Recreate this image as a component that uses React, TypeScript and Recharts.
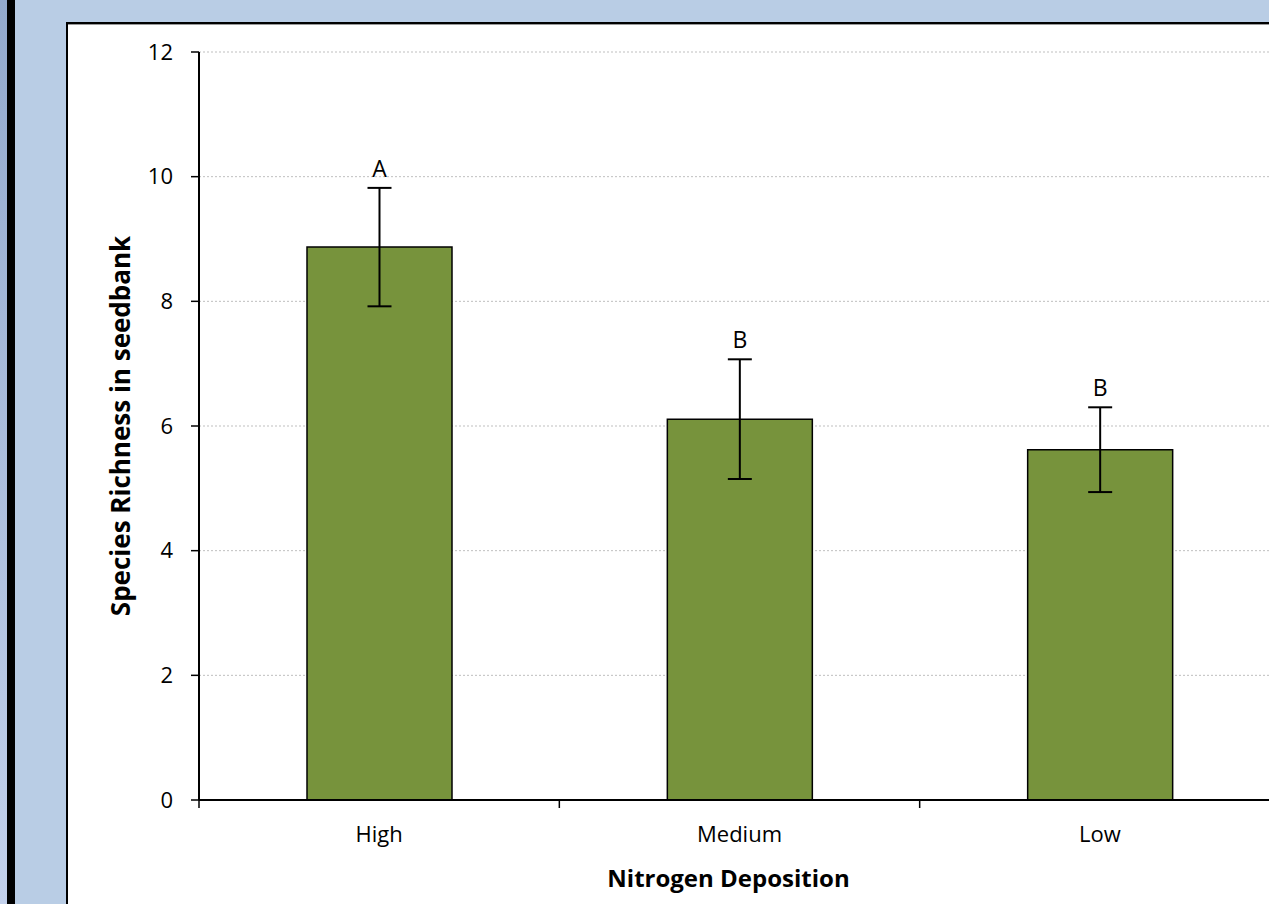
import { BarChart, Bar, XAxis, YAxis, CartesianGrid, ErrorBar, LabelList } from "recharts";

const categories = ["High", "Medium", "Low"];
const richness = [8.87, 6.11, 5.62];
const stdErr = [0.95, 0.96, 0.68];
const letters = ["A", "B", "B"];
const yTicks = [0, 2, 4, 6, 8, 10, 12];
// ticks on the numeric x axis: whole numbers are the category borders, halves are the labels
const xTicks = [0, 0.5, 1, 1.5, 2, 2.5, 3];

const FONT = "'Open Sans', sans-serif";

const data = categories.map((name, i) => ({
  name,
  pos: i + 0.5,
  richness: richness[i],
  err: stdErr[i],
  letter: letters[i],
}));

// letter sits just above the top of the error bar
function LetterLabel(props: any) {
  const { x, y, width, height, value, index } = props;
  const errTop = y - (stdErr[index] * height) / richness[index];
  return (
    <text x={x + width / 2} y={errTop - 11} textAnchor="middle" fontFamily={FONT} fontSize={23} fill="#000">
      {value}
    </text>
  );
}

function XTick(props: any) {
  const { x, y, payload } = props;
  const v = payload.value;
  if (Number.isInteger(v)) {
    return <line x1={x} y1={y} x2={x} y2={y + 8} stroke="#000" strokeWidth={1.5} />;
  }
  return (
    <text x={x} y={y + 42} textAnchor="middle" fontFamily={FONT} fontSize={22} fill="#000">
      {categories[Math.floor(v)]}
    </text>
  );
}

function YTitle(props: any) {
  const { viewBox } = props;
  const cx = viewBox.x + 52;
  const cy = viewBox.y + viewBox.height / 2;
  return (
    <text
      x={cx}
      y={cy}
      transform={`rotate(-90 ${cx} ${cy})`}
      textAnchor="middle"
      dominantBaseline="central"
      fontFamily={FONT}
      fontWeight="bold"
      fontSize={26}
      fill="#000"
    >
      Species Richness in seedbank
    </text>
  );
}

function XTitle(props: any) {
  const { viewBox } = props;
  return (
    <text
      x={viewBox.x + viewBox.width / 2 - 11}
      y={viewBox.y + 87}
      textAnchor="middle"
      fontFamily={FONT}
      fontWeight="bold"
      fontSize={24}
      fill="#000"
    >
      Nitrogen Deposition
    </text>
  );
}

export default function App() {
  return (
    <div
      style={{
        position: "fixed",
        left: 0,
        top: 0,
        width: 1269,
        height: 904,
        overflow: "hidden",
        background: "#B9CDE5",
      }}
    >
      <div
        style={{
          position: "absolute",
          left: 0,
          top: 0,
          width: 7,
          height: 904,
          background: "linear-gradient(#93A9CD, #C3D1EC)",
        }}
      />
      <div style={{ position: "absolute", left: 7, top: 0, width: 8, height: 904, background: "#000" }} />
      <div
        style={{
          position: "absolute",
          left: 66,
          top: 22,
          width: 1260,
          height: 920,
          background: "#fff",
          borderTop: "2px solid #000",
          borderLeft: "2px solid #000",
          boxShadow: "inset 0 1px 0 #999",
        }}
      >
        <BarChart
          width={1220}
          height={880}
          data={data}
          margin={{ top: 28, right: 8, bottom: 0, left: 0 }}
          style={{ fontFamily: FONT }}
        >
          <CartesianGrid vertical={false} stroke="#BFBFBF" strokeDasharray="2 2" />
          <XAxis
            dataKey="pos"
            type="number"
            domain={[0, 3]}
            allowDataOverflow
            ticks={xTicks}
            interval={0}
            height={104}
            tickSize={0}
            tickMargin={0}
            tickLine={false}
            axisLine={{ stroke: "#000", strokeWidth: 2 }}
            tick={<XTick />}
            label={<XTitle />}
          />
          <YAxis
            width={131}
            domain={[0, 12]}
            ticks={yTicks}
            tickSize={8}
            tickMargin={18}
            axisLine={{ stroke: "#000", strokeWidth: 2 }}
            tickLine={{ stroke: "#000", strokeWidth: 1.5 }}
            tick={{ fill: "#000", fontSize: 22, fontFamily: FONT }}
            label={<YTitle />}
          />
          <Bar dataKey="richness" fill="#77933C" stroke="#000" strokeWidth={1.5} barSize={145} isAnimationActive={false}>
            <ErrorBar dataKey="err" direction="y" width={12} stroke="#000" strokeWidth={2} />
            <LabelList dataKey="letter" content={<LetterLabel />} />
          </Bar>
        </BarChart>
      </div>
    </div>
  );
}
